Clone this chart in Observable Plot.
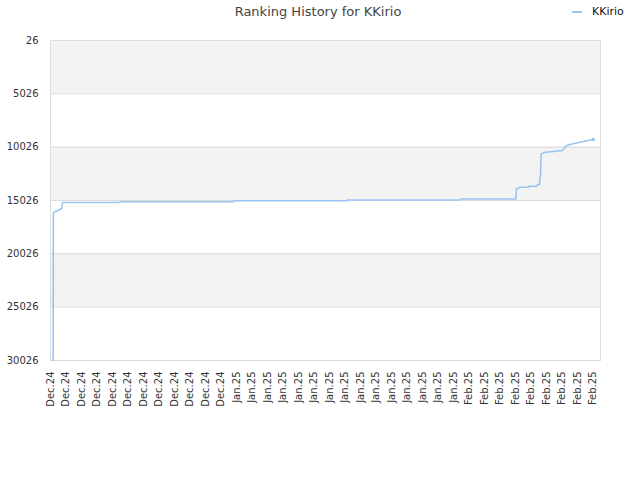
<!DOCTYPE html>
<html>
<head>
<meta charset="utf-8">
<script src="https://cdn.jsdelivr.net/npm/d3@7"></script>
<script src="https://cdn.jsdelivr.net/npm/@observablehq/plot@0.6"></script>
<style>
  html, body { margin: 0; padding: 0; background: #fff; }
  #wrap { position: relative; width: 640px; height: 480px; font-family: "DejaVu Sans", sans-serif; }
  #title { position: absolute; left: 0; width: 636px; top: 4px; text-align: center; font-size: 13px; color: #444; }
  #legend { position: absolute; left: 572px; top: 5px; font-size: 11px; color: #111; display: flex; align-items: center; }
  #legend .sw { display: inline-block; width: 10px; height: 2px; background: #99c5f0; margin-right: 10px; }
  #chart { position: absolute; left: 0; top: 0; }
</style>
</head>
<body>
<div id="wrap">
  <div id="chart"></div>
  <div id="title">Ranking History for KKirio</div>
  <div id="legend"><span class="sw"></span><span>KKirio</span></div>
</div>
<script>
// ---- data ----
const seriesName = "KKirio";
const dates = [
  "2024-12-09T08:00","2024-12-09T09:00","2024-12-09T16:00","2024-12-09T22:00",
  "2024-12-10T05:00","2024-12-10T11:00","2024-12-10T13:00","2024-12-17T22:00",
  "2024-12-17T23:00","2025-01-01T15:00","2025-01-01T16:00","2025-01-16T05:00",
  "2025-01-16T06:00","2025-01-30T22:00","2025-01-30T23:00","2025-02-07T01:00",
  "2025-02-07T03:00","2025-02-07T16:00","2025-02-08T16:00","2025-02-08T17:00",
  "2025-02-09T17:00","2025-02-09T19:00","2025-02-10T02:00","2025-02-10T03:00",
  "2025-02-10T05:30","2025-02-10T07:30","2025-02-10T21:00","2025-02-11T21:00",
  "2025-02-13T01:00","2025-02-13T05:30","2025-02-13T11:00","2025-02-13T21:00",
  "2025-02-14T11:00","2025-02-15T01:00","2025-02-15T18:00","2025-02-16T08:00",
  "2025-02-17T01:00"
];
const ranks = [
  30026,16151,16057,15963,
  15870,15776,15213,15213,
  15147,15147,15054,15054,
  14979,14979,14885,14885,
  13929,13779,13779,13685,
  13685,13554,13554,13151,
  12682,10648,10498,10432,
  10338,10179,9935,9804,
  9710,9617,9495,9401,
  9307
];
const yTicks = [26, 5026, 10026, 15026, 20026, 25026, 30026];
const bandStarts = [26, 10026, 20026];
const bandEnds = [5026, 15026, 25026];
const xTickDates = [
  "2024-12-09","2024-12-11","2024-12-13","2024-12-15","2024-12-17","2024-12-19",
  "2024-12-21","2024-12-23","2024-12-25","2024-12-27","2024-12-29","2024-12-31",
  "2025-01-02","2025-01-04","2025-01-06","2025-01-08","2025-01-10","2025-01-12",
  "2025-01-14","2025-01-16","2025-01-18","2025-01-20","2025-01-22","2025-01-24",
  "2025-01-26","2025-01-28","2025-01-30","2025-02-01","2025-02-03","2025-02-05",
  "2025-02-07","2025-02-09","2025-02-11","2025-02-13","2025-02-15","2025-02-17"
];
const xDomain = ["2024-12-09T00:00", "2025-02-17T23:15"];

// ---- build ----
const parse = s => new Date((s.length === 10 ? s + "T00:00" : s) + ":00Z");
const data = dates.map((d, i) => ({date: parse(d), rank: ranks[i]}));
const bands = bandStarts.map((s, i) => ({y1: s, y2: bandEnds[i]}));
const color = "#99c5f0";

const chart = Plot.plot({
  width: 640,
  height: 480,
  marginLeft: 50,
  marginRight: 40,
  marginTop: 40,
  marginBottom: 120,
  style: {fontFamily: "DejaVu Sans", fontSize: "10px", color: "#333", background: "transparent"},
  x: {
    type: "utc",
    domain: xDomain.map(parse),
    ticks: xTickDates.map(parse),
    tickFormat: d3.utcFormat("%b.%y"),
    tickRotate: -90,
    tickSize: 0,
    tickPadding: 11,
    label: null
  },
  y: {
    domain: [26, 30026],
    reverse: true,
    ticks: yTicks,
    tickFormat: d => String(d),
    tickSize: 0,
    tickPadding: 12,
    label: null
  },
  marks: [
    Plot.rect(bands, {y1: "y1", y2: "y2", fill: "#f3f3f3"}),
    Plot.gridY(yTicks, {stroke: "#dddddd", strokeOpacity: 1}),
    Plot.frame({stroke: "#dddddd"}),
    Plot.line(data, {x: "date", y: "rank", stroke: color, strokeWidth: 1.6}),
    Plot.dot(data.slice(-1), {x: "date", y: "rank", r: 1.8, fill: color})
  ]
});
document.getElementById("chart").appendChild(chart);
</script>
</body>
</html>
